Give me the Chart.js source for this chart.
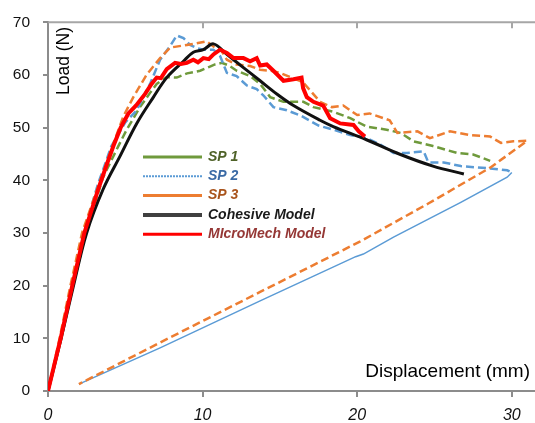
<!DOCTYPE html>
<html>
<head>
<meta charset="utf-8">
<script src="https://cdn.jsdelivr.net/npm/chart.js@4/dist/chart.umd.min.js"></script>
<style>
  html, body { margin: 0; padding: 0; background: #fff; }
  #wrap { width: 535px; height: 423px; }
</style>
</head>
<body>
<div id="wrap"><canvas id="myChart" width="535" height="423"></canvas></div>
<script>
// series (displacement mm, load N)
const labels = ['SP 1', 'SP 2', 'SP 3', 'Cohesive Model', 'MIcroMech Model'];

const sp1X = [0, 0.85, 1.62, 2.45, 3.55, 4.55, 5.09, 5.95, 6.6, 7.03, 7.68, 8.33, 9.0, 9.84, 10.4, 10.8, 11.24, 11.7, 12.2, 13.07, 13.72, 14.37, 15.23, 16.0, 16.52, 17.17, 18.47, 19.55, 20.6, 21.9, 22.8, 23.65, 24.9, 26.45, 27.5, 28.6];
const sp1Y = [0, 10, 20, 30, 40.5, 46.5, 49.6, 53.9, 56.6, 58.3, 59.6, 59.5, 60.3, 60.8, 61.5, 62.0, 62.3, 61.8, 60.8, 59.8, 58.3, 55.8, 54.9, 54.9, 54.9, 53.9, 53.0, 51.8, 50.2, 49.6, 49.0, 47.4, 46.5, 45.2, 44.9, 43.7];

const sp2X = [0, 0.8, 1.55, 2.3, 3.2, 4.1, 5.0, 5.74, 6.6, 7.25, 7.9, 8.33, 8.76, 9.19, 9.62, 10.05, 10.7, 11.13, 11.57, 12.2, 12.86, 13.5, 13.94, 14.58, 15.45, 16.4, 17.5, 18.47, 19.55, 20.6, 21.5, 22.35, 23.22, 24.3, 24.6, 25.6, 26.7, 28.4, 29.7, 30.0,
              29.7, 26.7, 22.35, 20.4, 19.9, 13.72, 7.25, 2.0];
const sp2Y = [0, 10, 20, 30, 39, 46.5, 51.0, 53.3, 58.3, 62.9, 65.5, 67.5, 67.0, 65.7, 65.1, 64.8, 64.8, 63.6, 60.4, 59.8, 58.0, 57.3, 56.1, 53.9, 53.3, 52.2, 50.4, 49.6, 48.6, 48.0, 46.8, 45.2, 45.2, 45.5, 43.4, 43.4, 42.7, 42.3, 41.9, 41.5,
              40.6, 35.8, 29.2, 26.0, 25.5, 17.1, 8.2, 1.3];
const sp2Tip = 39; // unloading starts here

const sp3X = [0, 0.75, 1.45, 2.2, 3.26, 4.01, 4.87, 5.52, 6.39, 7.25, 7.9, 8.98, 9.6, 10.27, 10.7, 11.24, 11.57, 12.2, 13.07, 13.72, 14.37, 15.0, 16.5, 17.6, 18.36, 19.1, 20.0, 20.8, 22.1, 22.6, 23.9, 24.7, 26.0, 27.3, 28.6, 29.3, 30.1, 31.0,
              28.6, 24.6, 20.2, 13.72, 7.25, 2.0];
const sp3Y = [0, 10, 20, 30, 39, 45.2, 52.1, 55.8, 60.1, 63.2, 65.2, 65.7, 66.0, 66.4, 65.4, 64.5, 62.9, 62.0, 61.7, 61.0, 60.8, 60.4, 58.6, 54.9, 53.9, 54.2, 52.4, 52.7, 51.4, 49.0, 49.3, 48.0, 49.3, 48.6, 48.3, 47.1, 47.4, 47.5,
              42.4, 35.6, 28.4, 18.8, 9.2, 1.3];

const cohX = [0, 0.85, 1.65, 2.5, 3.58, 4.66, 5.74, 6.82, 7.68, 8.76, 9.4, 10.05, 10.7, 11.57, 12.64, 13.72, 14.8, 15.88, 17.6, 18.45, 20.6, 22.8, 24.9, 26.9];
const cohY = [0, 10, 20, 30, 38.4, 44.6, 50.8, 55.8, 59.5, 62.6, 64.3, 64.8, 65.9, 63.9, 61.4, 58.9, 56.4, 54.2, 51.4, 50.2, 47.7, 44.9, 42.7, 41.2];

const mmX = [0, 0.82, 1.57, 2.35, 3.26, 3.8, 4.23, 4.7, 5.2, 5.7, 6.28, 6.7, 7.03, 7.3, 7.68, 8.22, 8.6, 8.98, 9.4, 9.7, 10.05, 10.4, 10.7, 11.13, 11.57, 12.0, 12.64, 13.07, 13.5, 13.72, 14.15, 14.58, 15.23, 15.88, 16.4, 16.5, 16.74, 17.17, 17.8, 18.25, 18.9, 19.76, 20.1, 20.5];
const mmY = [0, 10, 20, 30, 38.4, 43, 46.5, 50, 52.7, 54.2, 56.4, 58.3, 59.5, 59.4, 61.1, 62.3, 62.1, 62.3, 62.9, 62.4, 63.2, 63.0, 63.9, 64.8, 64.2, 63.2, 63.2, 62.6, 63.2, 61.8, 62.0, 60.8, 58.9, 59.2, 59.5, 57.5, 55.8, 54.9, 54.2, 51.8, 50.8, 50.5, 49.3, 48.3];

const xTicks = [0, 10, 20, 30];
const yTicks = [0, 10, 20, 30, 40, 50, 60, 70];

const pts = (xs, ys) => xs.map((x, i) => ({ x, y: ys[i] }));

// legend look (sample line + text colour)
const legendStyle = [
  { line: '#6f9a3c', width: 3, dash: [], text: '#4f6228' },
  { line: '#5b9bd5', width: 2, dash: [2, 1], text: '#3a6aa5' },
  { line: '#ed7d31', width: 3, dash: [], text: '#a9541c' },
  { line: '#404040', width: 4, dash: [], text: '#1a1a1a' },
  { line: '#ff0000', width: 3, dash: [], text: '#953735' }
];

const overlay = {
  id: 'overlay',
  afterDraw(chart) {
    const { ctx, chartArea: a, scales } = chart;
    ctx.save();
    // top frame line with inward ticks
    ctx.strokeStyle = '#a6a6a6';
    ctx.lineWidth = 2;
    ctx.beginPath();
    ctx.moveTo(a.left, a.top);
    ctx.lineTo(a.right, a.top);
    xTicks.slice(1).forEach(v => {
      const px = Math.round(scales.x.getPixelForValue(v));
      ctx.moveTo(px, a.top);
      ctx.lineTo(px, a.top + 6);
    });
    ctx.stroke();

    // axis titles sit inside the plot
    ctx.fillStyle = '#000';
    ctx.font = '19px "Liberation Sans"';
    ctx.textAlign = 'right';
    ctx.textBaseline = 'middle';
    ctx.fillText('Displacement (mm)', 530, 372);
    ctx.save();
    ctx.font = '17.5px "Liberation Sans"';
    ctx.translate(64, 61);
    ctx.rotate(-Math.PI / 2);
    ctx.textAlign = 'center';
    ctx.fillText('Load (N)', 0, 0);
    ctx.restore();

    // legend
    ctx.font = 'italic bold 14px "Liberation Sans"';
    ctx.textAlign = 'left';
    chart.data.datasets.forEach((ds, i) => {
      const st = legendStyle[i];
      const y = 157 + i * 19.3;
      ctx.strokeStyle = st.line;
      ctx.lineWidth = st.width;
      ctx.setLineDash(st.dash);
      ctx.beginPath();
      ctx.moveTo(143, y);
      ctx.lineTo(202, y);
      ctx.stroke();
      ctx.setLineDash([]);
      ctx.fillStyle = st.text;
      ctx.fillText(ds.label, 208, y);
    });
    ctx.restore();
  }
};

const dashed = [8, 4];

new Chart(document.getElementById('myChart'), {
  type: 'scatter',
  data: {
    datasets: [
      { label: labels[0], data: pts(sp1X, sp1Y), borderColor: '#6f9a3c', borderWidth: 2.5, borderDash: dashed, order: 4 },
      { label: labels[1], data: pts(sp2X, sp2Y), borderColor: '#5b9bd5', borderWidth: 2.5, borderDash: dashed, order: 3,
        segment: {
          borderDash: c => c.p0DataIndex >= sp2Tip ? [] : dashed,
          borderWidth: c => c.p0DataIndex >= sp2Tip ? 1.5 : 2.5
        } },
      { label: labels[2], data: pts(sp3X, sp3Y), borderColor: '#ed7d31', borderWidth: 2.5, borderDash: dashed, order: 2 },
      { label: labels[3], data: pts(cohX, cohY), borderColor: '#111111', borderWidth: 3, order: 1, tension: 0.35 },
      { label: labels[4], data: pts(mmX, mmY), borderColor: '#ff0000', borderWidth: 4, order: 0 }
    ].map(d => Object.assign({ showLine: true, pointRadius: 0, tension: 0, fill: false }, d))
  },
  options: {
    responsive: false,
    animation: false,
    devicePixelRatio: 1,
    layout: { padding: { top: 15, right: 0, left: 0, bottom: 0 } },
    plugins: { legend: { display: false }, tooltip: { enabled: false } },
    scales: {
      x: {
        type: 'linear', min: 0, max: 31.5,
        afterFit: s => { s.height = 32; },
        afterBuildTicks: s => { s.ticks = xTicks.map(v => ({ value: v })); },
        border: { color: '#8c8c8c', width: 2 },
        grid: { drawOnChartArea: false, drawTicks: true, tickLength: 6, color: '#8c8c8c', lineWidth: 2 },
        ticks: { color: '#111', padding: 9, maxRotation: 0, font: { family: '"Liberation Sans"', size: 16, style: 'italic' } }
      },
      y: {
        type: 'linear', min: 0, max: 70,
        afterFit: s => { s.width = 48; },
        afterBuildTicks: s => { s.ticks = yTicks.map(v => ({ value: v })); },
        border: { color: '#8c8c8c', width: 2 },
        grid: { drawOnChartArea: false, drawTicks: true, tickLength: 5, color: '#8c8c8c', lineWidth: 2 },
        ticks: { color: '#111', padding: 13, font: { family: '"Liberation Sans"', size: 15.5 } }
      }
    }
  },
  plugins: [overlay]
});
</script>
</body>
</html>
